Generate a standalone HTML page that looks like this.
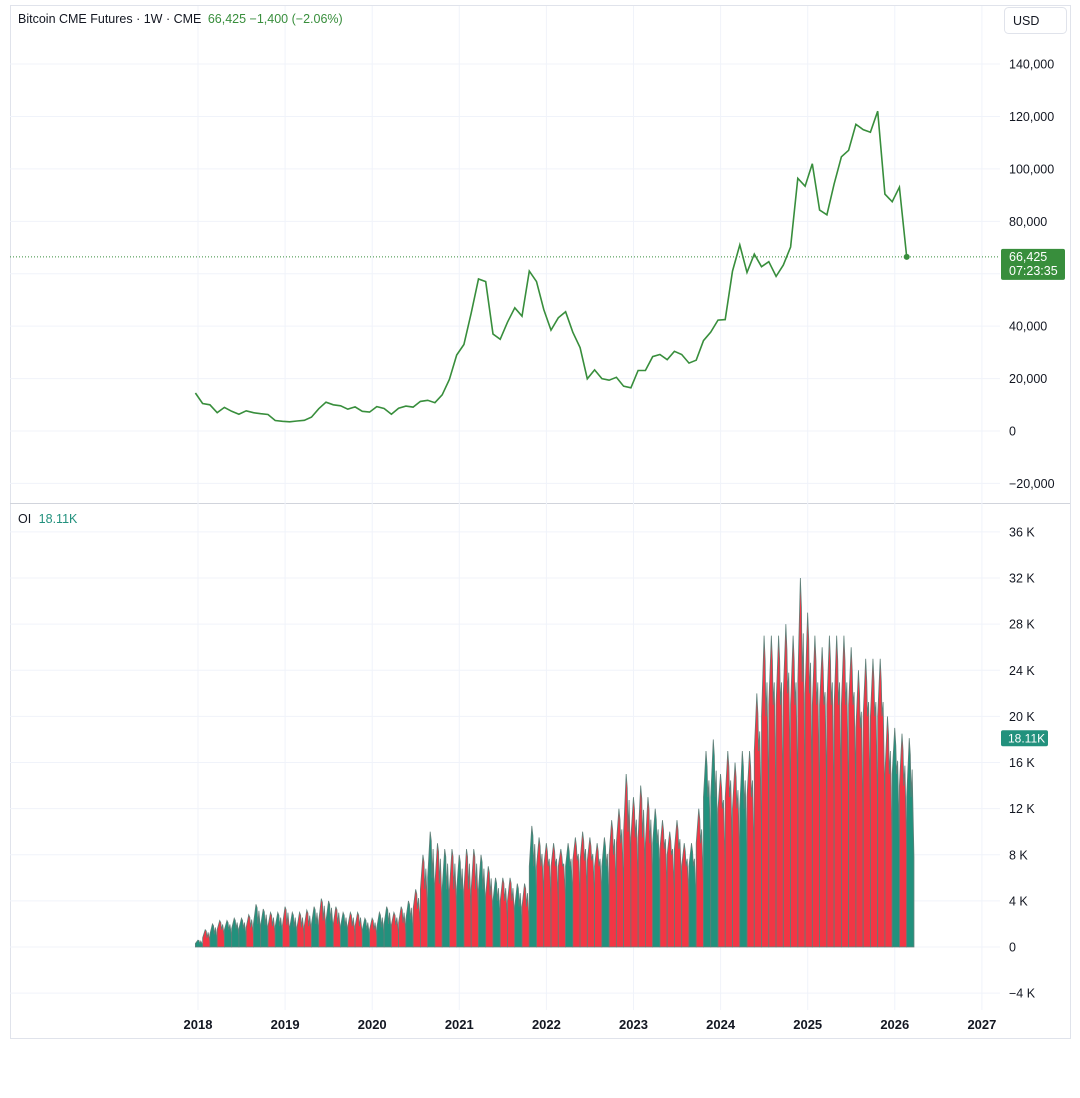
<!DOCTYPE html>
<html><head><meta charset="utf-8"><style>
body{margin:0;background:#fff;font-family:"Liberation Sans",sans-serif;}
#wrap{position:relative;width:1080px;height:1098px;overflow:hidden;}
svg text{font-family:"Liberation Sans",sans-serif;}
</style></head><body>
<div id="wrap">
<svg id="c" width="1080" height="1098"></svg>
</div>
<script>
const priceTicks=[140000,120000,100000,80000,60000,40000,20000,0,-20000];
const priceTickLabels=["140,000","120,000","100,000","80,000","","40,000","20,000","0","\u221220,000"];
const oiTicks=[36,32,28,24,20,16,12,8,4,0,-4];
const oiTickLabels=["36 K","32 K","28 K","24 K","20 K","16 K","12 K","8 K","4 K","0","\u22124 K"];
const years=[2018,2019,2020,2021,2022,2023,2024,2025,2026,2027];
const priceStart=2017.97;
const prices=[14500,
10500,10000,7000,9000,7500,6400,7700,7000,6600,6300,4000,3700,
3500,3800,4100,5300,8500,11000,10000,9600,8300,9200,7500,7200,
9300,8600,6400,8700,9500,9100,11300,11700,10800,13800,19700,29000,
33000,45000,58000,57000,37000,35000,41500,47000,43800,61000,57000,46300,
38500,43200,45500,37700,31800,19900,23300,20000,19400,20500,17100,16500,
23100,23100,28400,29200,27200,30400,29200,25900,27000,34500,37700,42300,
42500,61000,71000,60500,67500,62700,64600,59000,63300,70200,96400,93400,
102000,84300,82500,94200,104600,107100,117000,115000,114000,122000,90400,87500,
93000,66425];
const oiPeaks=[0.6,
1.5,2,2.3,2.3,2.5,2.5,2.8,3.7,3.3,3,3,3.5,
3,3,3.2,3.5,4.2,4,3.5,3,3,3,2.5,2.5,
3,3.5,3,3.5,4,5,8,10,9,8.5,8.5,8,
8.5,8.5,8,7,6,6,6,5.5,5.5,10.5,9.5,9,
9,8.5,9,9.5,10,9.5,9,9.5,11,12,15,13,
14,13,12,11,10,11,9,9,12,17,18,15,
17,16,17,17,22,27,27,27,28,27,32,29,
27,26,27,27,27,26,24,25,25,25,20,19,
18.5,18.11];
const oiTroughs=[0.3,
0.8,1.1,1.5,1.5,1.6,1.6,1.7,2,1.9,1.8,1.8,1.9,
1.7,1.7,1.8,2,2.3,2.3,2,1.8,1.8,1.8,1.5,1.5,
1.7,2,1.9,2.1,2.4,3.3,5,6,5.5,5,5,5,
5,5,5,4.5,4,4,4,3.5,3.5,7,7,7,
7,7,7,7.5,7.5,7.5,7,7,8,9,10,9.5,
9.5,9,9,8.5,8,8.5,7,7,9,13,13,12,
13,12,12,13,17,20,21,21,22,21,23,22,
21,21,21,21,21,21,19,20,20,20,15,15,
14,13];
const oiColors="grgrgggrggrgrgrrgrgrgrrgrggrrgrrgrgrgrrgrgrrgrgrrrrgrrrrgrrrrrrgrrrrgrggrrrgrrrrrrrrrrrrrrrrrrrrgrg";

const NS="http://www.w3.org/2000/svg";
const svg=document.getElementById('c');
function mk(tag,attrs,parent){const e=document.createElementNS(NS,tag);for(const k in attrs)e.setAttribute(k,attrs[k]);(parent||svg).appendChild(e);return e;}
const xOf=t=>198+(t-2018)*87.1;
const yP=v=>431-v*0.002621;
const yO=v=>947-v*11.53;

let fr=mk('rect',{x:10.5,y:5.5,width:1060,height:1033,fill:'none',stroke:'#e0e3eb'});


let sep=mk('line',{x1:10,x2:1070,y1:503.5,y2:503.5,stroke:'#d1d4dc'});


years.forEach(y=>{const l=mk('line',{x1:xOf(y),x2:xOf(y),y1:6,y2:1010,stroke:'#f0f3fa'});


const t=mk('text',{x:xOf(y),y:1029,'text-anchor':'middle','font-size':13,'font-weight':'bold',fill:'#131722'});t.textContent=y;

});
priceTicks.forEach((v,i)=>{const y=yP(v);const l=mk('line',{x1:10,x2:1000,y1:y,y2:y,stroke:'#f0f3fa'});


const t=mk('text',{x:1009,y:y+4.5,'font-size':12.5,fill:'#131722'});t.textContent=priceTickLabels[i];

});
oiTicks.forEach((v,i)=>{const y=yO(v);const l=mk('line',{x1:10,x2:1000,y1:y,y2:y,stroke:'#f0f3fa'});


const t=mk('text',{x:1009,y:y+4.5,'font-size':12.5,fill:'#131722'});t.textContent=oiTickLabels[i];

});

const mw=87.1/12;
oiPeaks.forEach((p,i)=>{const t0=priceStart+(i)/12;const x0=xOf(t0),x1=x0+mw;const tr=oiTroughs[i];
const isG=oiColors[i]==='g';
const pts=[[x0,yO(0)],[x0,yO(tr)],[x0+mw*0.35,yO(p)],[x0+mw*0.5,yO(p*0.92)],[x0+mw*0.6,yO(tr)],[x0+mw*0.75,yO(p*0.85)],[x1,yO(tr*0.6)],[x1,yO(0)]];
const pg=mk('polygon',{points:pts.map(q=>q.join(',')).join(' '),fill:isG?'#22917d':'#f23645',stroke:'#5f7f78','stroke-width':0.8});

});

let d='';prices.forEach((v,i)=>{const t=priceStart+i/12;d+=(i?'L':'M')+xOf(t).toFixed(1)+','+yP(v).toFixed(1);});
let pl=mk('path',{d:d,fill:'none',stroke:'#388e3c','stroke-width':1.6});


const lastX=xOf(priceStart+(prices.length-1)/12),lastY=yP(prices[prices.length-1]);
let dl=mk('line',{x1:10,x2:1000,y1:lastY,y2:lastY,stroke:'#388e3c','stroke-dasharray':'1 2'});


let dot=mk('circle',{cx:lastX,cy:lastY,r:3,fill:'#388e3c'});


let pb=mk('rect',{x:1001,y:lastY-8,width:64,height:31,rx:2,fill:'#388e3c'});


let pt1=mk('text',{x:1009,y:lastY+4,'font-size':12.5,fill:'#fff'});pt1.textContent='66,425';


let pt2=mk('text',{x:1009,y:lastY+18,'font-size':12.5,fill:'#fff'});pt2.textContent='07:23:35';


const oy=yO(oiPeaks[oiPeaks.length-1]);
let ob=mk('rect',{x:1001,y:oy-8,width:47,height:16,rx:2,fill:'#22917d'});


let ot=mk('text',{x:1008,y:oy+4.5,'font-size':12,fill:'#fff'});ot.textContent='18.11K';


let ub=mk('rect',{x:1004.5,y:7.5,width:62,height:26,rx:4,fill:'#fff',stroke:'#e0e3eb'});


let ut=mk('text',{x:1013,y:25,'font-size':12.5,fill:'#131722'});ut.textContent='USD';


let lg=mk('text',{x:18,y:23,'font-size':12.5,fill:'#131722'});


lg.innerHTML='Bitcoin CME Futures · 1W · CME <tspan fill="#388e3c" dx="3">66,425  \u22121,400 (\u22122.06%)</tspan>';
let ol=mk('text',{x:18,y:523,'font-size':12.5,fill:'#131722'});


ol.innerHTML='OI <tspan fill="#22917d" dx="4">18.11K</tspan>';
</script>
</body></html>
